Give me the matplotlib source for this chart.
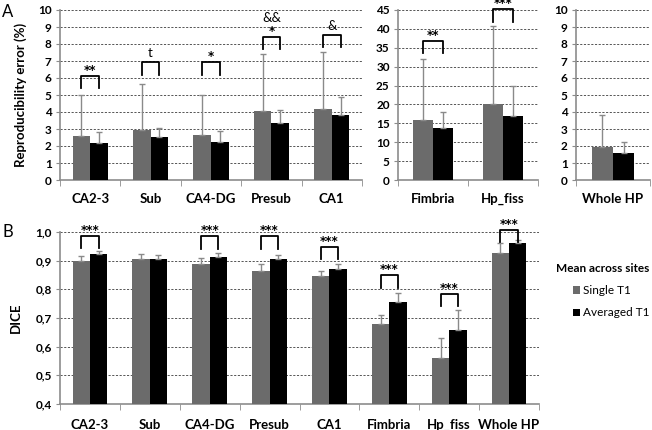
import numpy as np
import matplotlib
matplotlib.use("Agg")
import matplotlib.pyplot as plt
from matplotlib.ticker import FuncFormatter, FixedLocator

plt.rcParams['font.family'] = ['Lato', 'DejaVu Sans']

# ---------------- data ----------------
regions_a1 = ['CA2-3', 'Sub', 'CA4-DG', 'Presub', 'CA1']
single_a1 = [2.59, 2.94, 2.63, 4.03, 4.17]
single_a1_err = [2.39, 2.69, 2.38, 3.38, 3.37]
avg_a1 = [2.16, 2.51, 2.22, 3.37, 3.84]
avg_a1_err = [0.64, 0.53, 0.68, 0.76, 1.03]
sig_a1 = ['**', 't', '*', '*', '&']
sig2_a1 = ['', '', '', '&&', '']
bracket_a1 = [6.14, 6.92, 6.92, 8.42, 8.52]

regions_a2 = ['Fimbria', 'Hp_fiss']
single_a2 = [15.97, 20.2]
single_a2_err = [15.93, 20.6]
avg_a2 = [13.75, 16.95]
avg_a2_err = [4.35, 7.95]
sig_a2 = ['**', '***']
bracket_a2 = [36.8, 45.25]

regions_a3 = ['Whole HP']
single_a3 = [1.93]
single_a3_err = [1.87]
avg_a3 = [1.60]
avg_a3_err = [0.63]

regions_b = ['CA2-3', 'Sub', 'CA4-DG', 'Presub', 'CA1', 'Fimbria', 'Hp_fiss', 'Whole HP']
single_b = [0.900, 0.905, 0.890, 0.865, 0.847, 0.680, 0.560, 0.928]
single_b_err = [0.015, 0.017, 0.020, 0.023, 0.017, 0.030, 0.071, 0.032]
avg_b = [0.922, 0.905, 0.913, 0.906, 0.871, 0.757, 0.659, 0.960]
avg_b_err = [0.012, 0.015, 0.014, 0.013, 0.019, 0.031, 0.068, 0.012]
sig_b = ['***', '', '***', '***', '***', '***', '***', '***']
bracket_b = [0.987, None, 0.985, 0.985, 0.949, 0.849, 0.784, 1.008]

series_names = ['Single T1', 'Averaged T1']

# ---------------- style ----------------
GRAY = '#6b6b6b'
BLACK = '#000000'
ECOL = '#8a8a8a'
AXCOL = '#8c8c8c'
W, H = 652, 430
fig = plt.figure(figsize=(W / 100, H / 100), dpi=100)


def px_axes(x0, y0, x1, y1):
    return fig.add_axes([x0 / W, 1 - y1 / H, (x1 - x0) / W, (y1 - y0) / H])


def draw_panel(ax, cats, s, se, a, ae, ymax, step, fmt=None, ymin=0):
    n = len(cats)
    x = np.arange(n)
    bw = 0.29
    ax.bar(x - bw / 2, s, bw, color=GRAY, zorder=3, label=series_names[0])
    ax.bar(x + bw / 2, a, bw, color=BLACK, zorder=3, label=series_names[1])
    ax.errorbar(x - bw / 2, s, yerr=[np.zeros(n), se], fmt='none', ecolor=ECOL,
                elinewidth=1.0, capsize=2.5, capthick=1.0, zorder=4)
    ax.errorbar(x + bw / 2, a, yerr=[np.zeros(n), ae], fmt='none', ecolor=ECOL,
                elinewidth=1.0, capsize=2.5, capthick=1.0, zorder=4)
    ax.set_xlim(-0.5, n - 0.5)
    ax.set_ylim(ymin, ymax)
    ticks = np.arange(ymin, ymax + step / 2, step)
    ax.yaxis.set_major_locator(FixedLocator(ticks))
    if fmt:
        ax.yaxis.set_major_formatter(FuncFormatter(fmt))
    ax.set_xticks(x)
    ax.set_xticklabels(cats, fontsize=9.5, fontweight='bold')
    ax.set_xticks(np.arange(n + 1) - 0.5, minor=True)
    ax.tick_params(axis='x', which='major', length=0, pad=9)
    ax.tick_params(axis='x', which='minor', length=4, color=AXCOL, direction='out')
    ax.tick_params(axis='y', length=3, color=AXCOL, labelsize=8.5, pad=3)
    for lab in ax.get_yticklabels():
        lab.set_fontweight('bold')
    for sp in ['top', 'right']:
        ax.spines[sp].set_visible(False)
    for sp in ['left', 'bottom']:
        ax.spines[sp].set_color(AXCOL)
        ax.spines[sp].set_linewidth(1.2)
    ax.grid(axis='y', color='#555555', linestyle=(0, (2.2, 1.6)), linewidth=0.7, zorder=0)
    ax.set_axisbelow(True)
    return x, bw


def brackets(ax, x, bw, tops, depth, labels, labels2=None):
    for i, t in enumerate(tops):
        if t is None:
            continue
        xl, xr = x[i] - bw / 2, x[i] + bw / 2
        ax.plot([xl, xl, xr, xr], [t - depth, t, t, t - depth], color='black',
                lw=1.3, zorder=5, clip_on=False, solid_joinstyle='round')
        lab = labels[i]
        if set(lab) == {'*'}:
            ax.annotate(lab, (x[i], t), xytext=(0, 1.5), textcoords='offset points',
                        ha='center', va='baseline', fontsize=8.5, fontweight='bold',
                        family='DejaVu Sans', annotation_clip=False)
        else:
            ax.annotate(lab, (x[i], t), xytext=(0, 3.5), textcoords='offset points',
                        ha='center', va='baseline', fontsize=9.5,
                        annotation_clip=False)
        if labels2 and labels2[i]:
            ax.annotate(labels2[i], (x[i], t), xytext=(0, 10.5), textcoords='offset points',
                        ha='center', va='baseline', fontsize=9.5, annotation_clip=False)


# ---------------- Panel A ----------------
ax1 = px_axes(60, 10, 362, 180)
x, bw = draw_panel(ax1, regions_a1, single_a1, single_a1_err, avg_a1, avg_a1_err, 10, 1)
brackets(ax1, x, bw, bracket_a1, 0.72, sig_a1, sig2_a1)
ax1.set_ylabel('Reproducibility error (%)', fontsize=9.5, fontweight='bold', labelpad=8)

ax2 = px_axes(398, 10, 538, 180)
x, bw = draw_panel(ax2, regions_a2, single_a2, single_a2_err, avg_a2, avg_a2_err, 45, 5)
brackets(ax2, x, bw, bracket_a2, 3.3, sig_a2)

ax3 = px_axes(576, 10, 650, 180)
x, bw = draw_panel(ax3, regions_a3, single_a3, single_a3_err, avg_a3, avg_a3_err, 10, 1)

# ---------------- Panel B ----------------
axb = px_axes(60, 232, 539, 404)
x, bw = draw_panel(axb, regions_b, single_b, single_b_err, avg_b, avg_b_err, 1.0, 0.1,
                   fmt=lambda v, p: f'{v:.1f}'.replace('.', ','), ymin=0.4)
brackets(axb, x, bw, bracket_b, 0.043, sig_b)
axb.set_ylabel('DICE', fontsize=9.5, fontweight='bold', labelpad=10)
axb.tick_params(axis='x', which='major', pad=11)

h, l = axb.get_legend_handles_labels()
fig.legend(h, l, title='Mean across sites', loc='upper left',
           bbox_to_anchor=(556 / W, 1 - 263 / H), frameon=False, fontsize=8.5,
           title_fontproperties={'weight': 'bold', 'size': 8.5},
           handlelength=0.55, handleheight=0.55, handletextpad=0.25,
           labelspacing=0.95, alignment='right', borderaxespad=0, borderpad=0)

fig.text(2 / W, 1 - 12 / H, 'A', fontsize=12, va='center', ha='left')
fig.text(2 / W, 1 - 232 / H, 'B', fontsize=12, va='center', ha='left')

fig.savefig('out.png', dpi=100)
